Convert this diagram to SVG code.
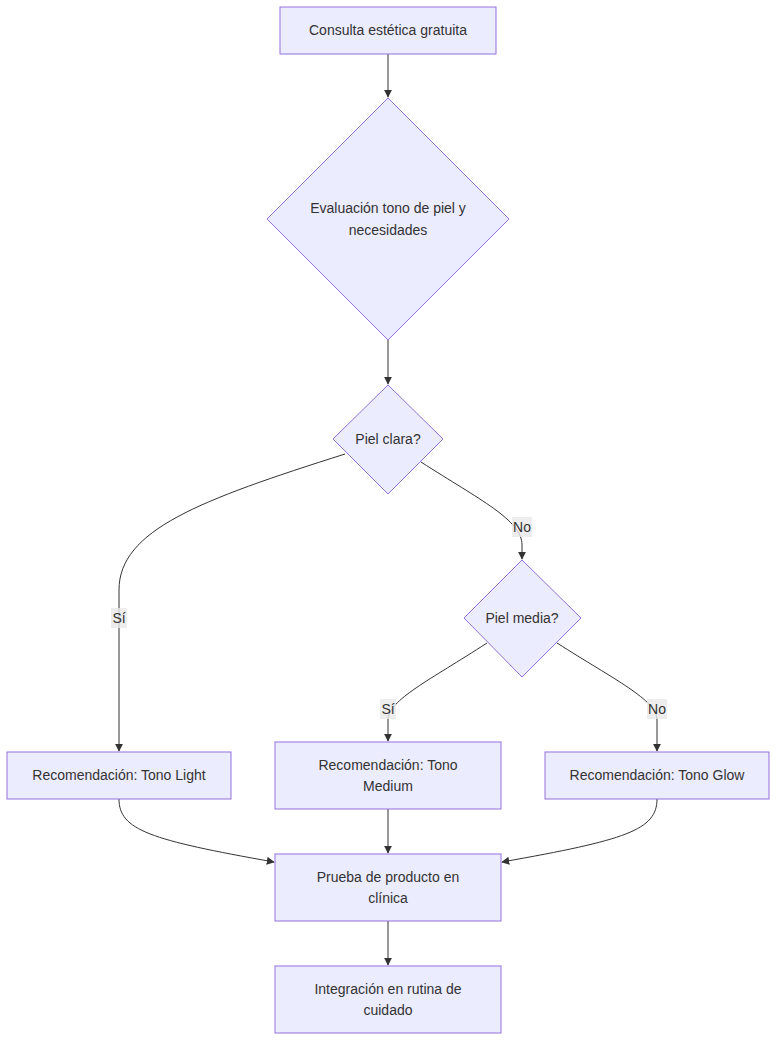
<svg xmlns="http://www.w3.org/2000/svg" width="784" height="1052" viewBox="0 0 784 1052">
<style>
.n{fill:#ECECFF;stroke:#9370DB;stroke-width:1}
.t{font-family:"Liberation Sans",Arial,sans-serif;font-size:14px;fill:#333;text-anchor:middle;dominant-baseline:central}
.e{fill:none;stroke:#333;stroke-width:1}
.lb{fill:#E8E8E8;opacity:0.8}
</style>
<defs><marker id="ar" viewBox="0 0 10 10" refX="9" refY="5" markerWidth="8" markerHeight="8" orient="auto"><path d="M0,0L10,5L0,10z" fill="#333"/></marker></defs>
<rect width="784" height="1052" fill="#fff"/>
<g id="connectors">
<path class="e" marker-end="url(#ar)" d="M388,54V97"/>
<path class="e" marker-end="url(#ar)" d="M388,340V384"/>
<path class="e" marker-end="url(#ar)" d="M345,454C200,500 119,530 119,590V751"/>
<path class="e" marker-end="url(#ar)" d="M421,462C480,500 522,520 522,545V559"/>
<path class="e" marker-end="url(#ar)" d="M487,643C430,680 388,700 388,720V741"/>
<path class="e" marker-end="url(#ar)" d="M557,643C615,680 657,700 657,720V751"/>
<path class="e" marker-end="url(#ar)" d="M119,799C119,830 150,840 274,862"/>
<path class="e" marker-end="url(#ar)" d="M388,809V853"/>
<path class="e" marker-end="url(#ar)" d="M657,799C657,830 626,840 502,862"/>
<path class="e" marker-end="url(#ar)" d="M388,921V965"/>
<rect class="lb" x="111" y="608" width="16" height="20"/><text class="t" x="119" y="618">Sí</text>
<rect class="lb" x="512" y="517" width="20" height="20"/><text class="t" x="522" y="527">No</text>
<rect class="lb" x="380" y="699" width="16" height="20"/><text class="t" x="388" y="709">Sí</text>
<rect class="lb" x="647" y="699" width="20" height="20"/><text class="t" x="657" y="709">No</text>
</g>
<g id="A"><rect class="n" x="280" y="7" width="216" height="47"/><text class="t" x="388" y="30">Consulta estética gratuita</text></g>
<g id="B"><polygon class="n" points="388,98 509,219 388,340 267,219"/><text class="t" x="388" y="208">Evaluación tono de piel y</text><text class="t" x="388" y="230">necesidades</text></g>
<g id="C"><polygon class="n" points="388,385 443,439 388,494 333,439"/><text class="t" x="388" y="439">Piel clara?</text></g>
<g id="D"><polygon class="n" points="522,560 581,618 522,677 464,618"/><text class="t" x="522" y="618">Piel media?</text></g>
<g id="E"><rect class="n" x="7" y="752" width="224" height="47"/><text class="t" x="119" y="775">Recomendación: Tono Light</text></g>
<g id="F"><rect class="n" x="275" y="742" width="226" height="67"/><text class="t" x="388" y="765">Recomendación: Tono</text><text class="t" x="388" y="786">Medium</text></g>
<g id="G"><rect class="n" x="545" y="752" width="224" height="47"/><text class="t" x="657" y="775">Recomendación: Tono Glow</text></g>
<g id="H"><rect class="n" x="275" y="854" width="226" height="67"/><text class="t" x="388" y="877">Prueba de producto en</text><text class="t" x="388" y="898">clínica</text></g>
<g id="I"><rect class="n" x="275" y="966" width="226" height="67"/><text class="t" x="388" y="989">Integración en rutina de</text><text class="t" x="388" y="1010">cuidado</text></g>
</svg>
